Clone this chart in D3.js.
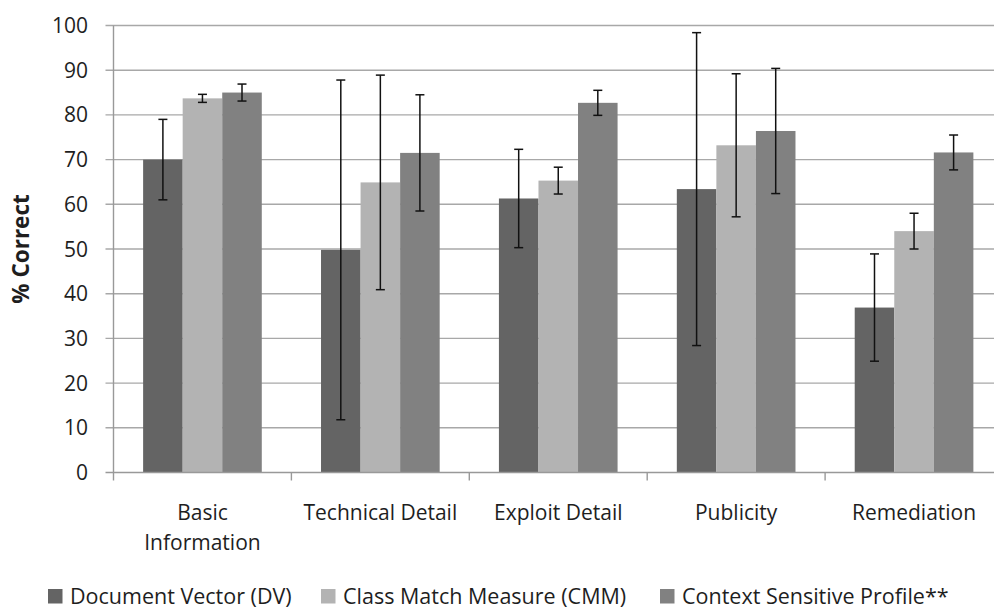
<!DOCTYPE html>
<html>
<head>
<meta charset="utf-8">
<script src="https://cdn.jsdelivr.net/npm/d3@7"></script>
<style>
  html, body { margin: 0; padding: 0; background: #fff; }
  svg { display: block; }
  text { font-family: "Open Sans", "DejaVu Sans", sans-serif; fill: #1e1e1e; }
</style>
</head>
<body>
<svg id="chart" width="994" height="609"></svg>
<script>
// Categories (a "\n" marks a line break in the axis label)
const categories = ["Basic\nInformation", "Technical Detail", "Exploit Detail", "Publicity", "Remediation"];
const seriesNames = ["Document Vector (DV)", "Class Match Measure (CMM)", "Context Sensitive Profile**"];
const seriesColors = ["#646464", "#b3b3b3", "#818181"];

// Mean % correct per category
const dvValues  = [70.0, 49.8, 61.3, 63.4, 36.9];
const cmmValues = [83.7, 64.9, 65.3, 73.2, 54.0];
const cspValues = [85.0, 71.5, 82.7, 76.4, 71.6];

// Error bar half-widths
const dvErrors  = [9.0, 38.0, 11.0, 35.0, 12.0];
const cmmErrors = [0.9, 24.0, 3.0, 16.0, 4.0];
const cspErrors = [1.9, 13.0, 2.8, 14.0, 3.9];

const yTicks = [0, 10, 20, 30, 40, 50, 60, 70, 80, 90, 100];

const series = [
  { name: seriesNames[0], color: seriesColors[0], values: dvValues,  errors: dvErrors },
  { name: seriesNames[1], color: seriesColors[1], values: cmmValues, errors: cmmErrors },
  { name: seriesNames[2], color: seriesColors[2], values: cspValues, errors: cspErrors }
];

const svg = d3.select("#chart");
const plot = { left: 113.5, right: 1003, top: 25.5, bottom: 472.5 };

const x0 = d3.scaleBand()
  .domain(categories)
  .range([plot.left, plot.right])
  .paddingInner(0.333)
  .paddingOuter(0.1665);

const x1 = d3.scaleBand()
  .domain(seriesNames)
  .range([0, x0.bandwidth()]);

const y = d3.scaleLinear().domain([0, 100]).range([plot.bottom, plot.top]);

const gridColor = "#a8a8a8";

// Horizontal gridlines with left tick stubs
svg.append("g")
  .selectAll("line")
  .data(yTicks.filter(d => d > 0))
  .join("line")
  .attr("x1", plot.left - 8)
  .attr("x2", plot.right)
  .attr("y1", d => y(d))
  .attr("y2", d => y(d))
  .attr("stroke", gridColor)
  .attr("stroke-width", 1.4);

// Y tick labels
svg.append("g")
  .selectAll("text")
  .data(yTicks)
  .join("text")
  .attr("x", 88)
  .attr("y", d => y(d))
  .attr("dy", "0.36em")
  .attr("text-anchor", "end")
  .attr("font-size", 21)
  .text(d => d);

// Bars
const groups = svg.append("g")
  .selectAll("g")
  .data(categories)
  .join("g")
  .attr("transform", c => `translate(${x0(c)},0)`);

groups.selectAll("rect")
  .data((c, i) => series.map(s => ({ s, v: s.values[i], e: s.errors[i] })))
  .join("rect")
  .attr("x", d => x1(d.s.name))
  .attr("width", x1.bandwidth())
  .attr("y", d => y(d.v))
  .attr("height", d => y(0) - y(d.v))
  .attr("fill", d => d.s.color);

// Error bars
const eb = groups.selectAll("g.err")
  .data((c, i) => series.map(s => ({ s, v: s.values[i], e: s.errors[i] })))
  .join("g")
  .attr("class", "err")
  .attr("transform", d => `translate(${x1(d.s.name) + x1.bandwidth() / 2},0)`)
  .attr("stroke", "#111")
  .attr("stroke-width", 1.5);

eb.append("line")
  .attr("y1", d => y(d.v + d.e))
  .attr("y2", d => y(d.v - d.e));
eb.append("line")
  .attr("x1", -4.5).attr("x2", 4.5)
  .attr("y1", d => y(d.v + d.e)).attr("y2", d => y(d.v + d.e));
eb.append("line")
  .attr("x1", -4.5).attr("x2", 4.5)
  .attr("y1", d => y(d.v - d.e)).attr("y2", d => y(d.v - d.e));

// Axes lines
svg.append("line")
  .attr("x1", plot.left).attr("x2", plot.left)
  .attr("y1", plot.top).attr("y2", plot.bottom + 8)
  .attr("stroke", "#999").attr("stroke-width", 1.4);
svg.append("line")
  .attr("x1", plot.left - 8).attr("x2", plot.right)
  .attr("y1", plot.bottom).attr("y2", plot.bottom)
  .attr("stroke", "#999").attr("stroke-width", 1.4);

// Category boundary ticks
svg.append("g")
  .selectAll("line")
  .data(categories.slice(1))
  .join("line")
  .attr("x1", c => x0(c) - x0.step() * 0.333 / 2)
  .attr("x2", c => x0(c) - x0.step() * 0.333 / 2)
  .attr("y1", plot.bottom)
  .attr("y2", plot.bottom + 8)
  .attr("stroke", "#999").attr("stroke-width", 1.4);

// Category labels
const catLabels = svg.append("g")
  .selectAll("text")
  .data(categories)
  .join("text")
  .attr("text-anchor", "middle")
  .attr("font-size", 21)
  .attr("transform", c => `translate(${x0(c) + x0.bandwidth() / 2},520)`);
catLabels.selectAll("tspan")
  .data(c => c.split("\n"))
  .join("tspan")
  .attr("x", 0)
  .attr("dy", (d, i) => i === 0 ? 0 : 30)
  .text(d => d);

// Y axis title
svg.append("text")
  .attr("transform", `translate(29,${(plot.top + plot.bottom) / 2}) rotate(-90)`)
  .attr("text-anchor", "middle")
  .attr("font-size", 22.5)
  .attr("font-weight", "bold")
  .attr("fill", "#111")
  .text("% Correct");

// Legend
const legendX = [48, 321, 660];
const legend = svg.append("g")
  .selectAll("g")
  .data(series)
  .join("g")
  .attr("transform", (d, i) => `translate(${legendX[i]},589)`);
legend.append("rect")
  .attr("width", 14.5).attr("height", 14.5)
  .attr("fill", d => d.color);
legend.append("text")
  .attr("x", 22)
  .attr("y", 7.5)
  .attr("dy", "0.36em")
  .attr("font-size", 21.5)
  .text(d => d.name);
</script>
</body>
</html>
